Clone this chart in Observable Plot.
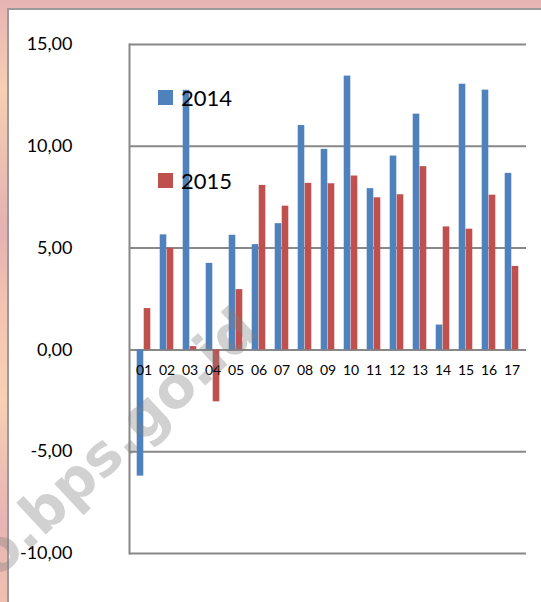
<!DOCTYPE html>
<html>
<head>
<meta charset="utf-8">
<script src="https://cdn.jsdelivr.net/npm/d3@7"></script>
<script src="https://cdn.jsdelivr.net/npm/@observablehq/plot@0.6"></script>
<style>
  html, body { margin: 0; padding: 0; }
  #wrap { position: relative; width: 541px; height: 602px; overflow: hidden;
    background: linear-gradient(to bottom, #e6b4b4 0px, #f7cfb2 90px, #e3b2b2 230px, #f2c3b1 300px, #f8d0b3 400px, #e6b4b4 520px, #efc0b0 602px); }
  #panel { position: absolute; left: 7px; top: 8px; right: 0; bottom: 0; background: #fff;
    border-left: 2px solid #9a9a9a; border-top: 2px solid #9a9a9a; }
  #chart { position: absolute; left: 0; top: 0; }
  .leg { position: absolute; font-family: Lato, "Open Sans", sans-serif; font-size: 22px; line-height: 28px; color: #000; }
  .sw { position: absolute; width: 15px; height: 15px; }
  #wm { position: absolute; left: -35px; top: 544px; font-family: "DejaVu Sans", sans-serif; font-weight: bold;
    font-size: 57px; line-height: 57px; color: rgba(128,128,128,0.36); transform: rotate(-43deg); transform-origin: 0 0; white-space: nowrap; }
</style>
</head>
<body>
<div id="wrap">
  <div id="panel"></div>
  <div id="chart"></div>
  <div class="sw" style="left:158px;top:90px;background:#4f81bd"></div>
  <div class="leg" style="left:181px;top:84px">2014</div>
  <div class="sw" style="left:158px;top:173px;background:#c0504d"></div>
  <div class="leg" style="left:181px;top:167px">2015</div>
  <div id="wm">o.bps.go.id</div>
</div>
<script>
const categories = ["01","02","03","04","05","06","07","08","09","10","11","12","13","14","15","16","17"];
const values2014 = [-6.2, 5.65, 12.75, 4.25, 5.63, 5.17, 6.2, 11.02, 9.85, 13.45, 7.92, 9.52, 11.58, 1.22, 13.05, 12.76, 8.67];
const values2015 = [2.03, 4.99, 0.16, -2.55, 2.96, 8.08, 7.06, 8.18, 8.16, 8.54, 7.47, 7.62, 9.0, 6.04, 5.93, 7.6, 4.1];
const yTicks = [-10, -5, 0, 5, 10, 15];

const d14 = categories.map((c, i) => ({cat: c, v: values2014[i]}));
const d15 = categories.map((c, i) => ({cat: c, v: values2015[i]}));
const fmt = d => d.toFixed(2).replace(".", ",");
const font = "Lato, 'Open Sans', sans-serif";

const plot = Plot.plot({
  width: 541,
  height: 602,
  marginLeft: 129,
  marginRight: 15,
  marginTop: 44,
  marginBottom: 49,
  style: {background: "transparent", fontFamily: font},
  x: {type: "band", domain: categories, padding: 0, axis: null},
  y: {domain: [-10, 15], ticks: yTicks, axis: null},
  marks: [
    Plot.ruleY(yTicks, {stroke: "#888", strokeWidth: 2}),
    Plot.frame({anchor: "left", stroke: "#888", strokeWidth: 2}),
    Plot.barY(d14, {x: "cat", y: "v", fill: "#4f81bd", insetLeft: 4.7, insetRight: 11.7}),
    Plot.barY(d15, {x: "cat", y: "v", fill: "#c0504d", insetLeft: 11.7, insetRight: 4.7}),
    Plot.text(categories, {x: d => d, y: 0, dy: 21, text: d => d, fontSize: 14, fill: "#000"}),
    Plot.axisY(yTicks, {tickSize: 0, tickPadding: 57, tickFormat: fmt, fontSize: 18, fill: "#000", anchor: "left", label: null})
  ]
});
document.getElementById("chart").appendChild(plot);
</script>
</body>
</html>
